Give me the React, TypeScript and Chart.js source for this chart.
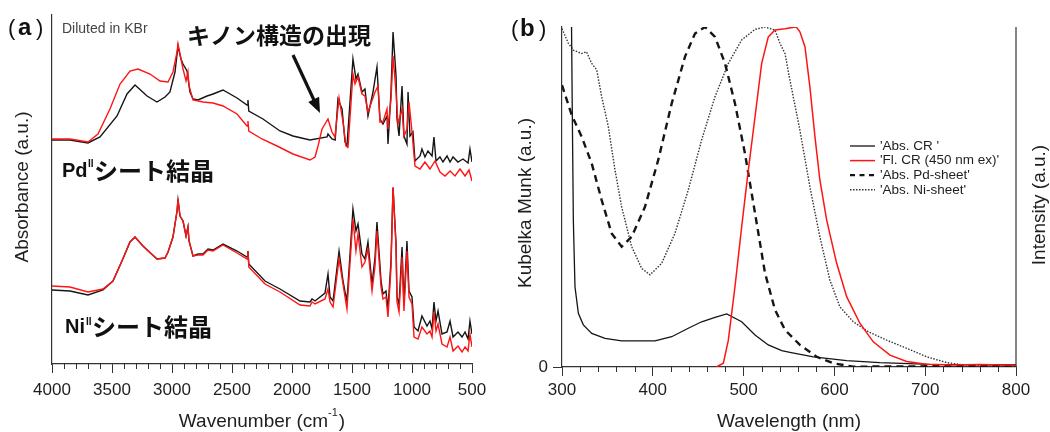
import React, { useEffect, useRef } from 'react';
import { Chart, registerables } from 'chart.js';

Chart.register(...registerables);

const SANS = '"Liberation Sans", Arial, Helvetica, sans-serif';
const CJK = '"Noto Sans CJK JP", "Noto Sans CJK SC", "Noto Sans", sans-serif';
const AXIS = '#333333';
const LABEL = '#1e1e1e';
const BLACK = '#151515';
const RED = '#ff1414';

// ---------------- Panel (a): IR spectra (arbitrary absorbance, offset) ----------------
const irRange = [500, 4000];
const irMajorStep = 500;
const irMinorStep = 100;

const pdBlackWn = [4000,3850,3700,3600,3458,3375,3308,3208,3125,3058,3017,2975,2950,2925,2908,2875,2850,2825,2783,2708,2658,2575,2458,2375,2367,2360,2242,2100,1992,1850,1708,1700,1667,1640,1617,1583,1558,1542,1492,1467,1450,1417,1392,1367,1325,1292,1267,1242,1208,1200,1175,1158,1133,1125,1108,1083,1067,1042,1033,1017,992,975,933,917,892,867,833,817,800,767,742,708,683,658,617,575,533,517,500];
const pdBlackAbs = [224,224,221,227,248,270,279,268,262,267,272,292,318,305,300,293,272,265,264,268,270,274,266,259,264,253,245,233,228,224,227,230,225,224,265,255,222,218,305,285,290,272,275,248,272,297,245,240,248,220,272,332,288,245,228,278,228,220,272,228,232,203,208,215,207,213,208,227,203,207,202,208,202,207,202,205,201,215,202];

const pdRedWn = [4000,3850,3700,3617,3517,3433,3350,3283,3183,3100,3033,2992,2958,2950,2925,2908,2883,2867,2858,2825,2742,2658,2575,2458,2375,2367,2360,2250,2125,1992,1850,1808,1783,1750,1725,1700,1667,1642,1608,1575,1550,1533,1492,1475,1450,1417,1392,1367,1308,1283,1267,1242,1208,1200,1175,1158,1133,1117,1083,1067,1042,1025,1000,975,933,892,850,808,767,725,683,642,600,558,525,500];
const pdRedAbs = [225,225,222,230,255,280,293,295,290,283,282,292,312,320,305,295,283,292,278,264,262,261,258,250,238,243,233,225,218,210,204,207,218,235,240,245,232,227,266,242,218,217,290,280,287,270,268,252,272,278,242,242,255,235,265,308,272,240,255,228,235,262,232,198,195,202,195,203,192,188,193,188,195,188,194,183];

const niWn = [4000,3850,3700,3575,3492,3417,3350,3308,3242,3125,3058,3033,2992,2958,2950,2933,2908,2883,2867,2858,2825,2783,2742,2700,2658,2575,2458,2375,2367,2360,2225,2100,1933,1850,1833,1808,1725,1700,1683,1658,1608,1575,1558,1542,1492,1467,1450,1417,1392,1367,1333,1308,1292,1258,1242,1217,1200,1175,1158,1133,1125,1108,1083,1067,1042,1025,1000,983,950,917,875,850,833,817,800,783,750,708,683,658,617,583,558,533,517,500];
const niBlackAbs = [74,73,69,74,83,103,122,127,118,105,106,112,127,153,164,148,143,128,137,123,108,110,110,115,114,120,113,107,113,100,83,75,63,62,65,63,71,90,67,63,113,83,72,63,155,133,140,110,105,122,80,107,142,83,70,73,55,103,176,120,67,60,117,60,123,73,67,37,33,48,38,43,35,62,43,53,30,32,43,27,32,27,32,25,43,30];
const niRedAbs = [78,77,72,75,83,103,122,127,118,105,106,112,127,153,165,148,143,128,137,123,108,109,109,114,113,119,111,105,113,97,80,72,59,58,62,60,65,75,62,57,105,80,67,55,145,113,130,97,102,115,73,98,133,77,65,67,47,97,177,117,62,52,107,53,113,67,60,27,25,37,30,33,27,52,33,40,20,17,27,13,18,12,17,13,30,17];

// ---------------- Panel (b): UV-vis / fluorescence ----------------
const uvRange = [300, 800];
const uvMajorStep = 100;
const uvMinorStep = 20;

const crAbsNm = [310.5,311.4,312.5,314.3,318,323.5,332.7,347.4,365.7,402.4,420.8,439.1,453.8,468.5,481.4,497.9,512.6,527.2,542,551,576.8,613.5,650,705,797,800];
const crAbsKM = [1.0,0.73,0.43,0.236,0.158,0.124,0.099,0.084,0.077,0.077,0.089,0.114,0.133,0.146,0.156,0.133,0.094,0.065,0.048,0.043,0.030,0.019,0.013,0.008,0.006,0.006];

const crFlNm = [470,477.7,483.2,490.5,497.9,505.2,512.6,519.9,527.2,534.6,545.6,552,558,562,567.6,573,578.6,584,591.5,602.5,613.5,628.2,642.8,661.2,679.6,701.6,730,760,800];
const crFlInt = [0,0.011,0.079,0.236,0.413,0.579,0.736,0.893,0.971,0.991,0.995,0.998,1.0,0.986,0.942,0.824,0.677,0.55,0.432,0.305,0.207,0.128,0.074,0.035,0.016,0.008,0.006,0.007,0.005];

const pdSheetNm = [300,310.7,321.7,332.7,343.7,354.7,365.7,376.7,391.4,406,420.8,435.5,446.5,457.5,468.5,479.5,490.5,501.5,512.6,523.6,534.6,545.6,562,580.5,598.8,620.8,700,800];
const pdSheetKM = [0.829,0.741,0.677,0.599,0.491,0.393,0.354,0.383,0.471,0.609,0.775,0.913,0.981,1.0,0.971,0.893,0.775,0.628,0.452,0.276,0.168,0.109,0.065,0.030,0.011,0.001,0.002,0.002];

const niSheetNm = [300,307,312.5,321.7,327,332.7,338.2,343.7,351,358.4,365.7,376.7,387.8,396.9,409.8,424.4,439.1,453.8,468.5,483.2,497.9,512.6,523.6,534.6,540,545.6,551,562,573,584,595,606,620.8,637.3,657.5,679.6,701.6,723.7,742,800];
const niSheetKM = [0.995,0.952,0.932,0.922,0.927,0.893,0.874,0.795,0.707,0.579,0.471,0.354,0.290,0.271,0.305,0.393,0.521,0.668,0.795,0.893,0.962,0.993,1.0,0.991,0.952,0.922,0.844,0.697,0.53,0.383,0.256,0.177,0.133,0.104,0.079,0.055,0.030,0.013,0.006,0.006];

const legendLabels = ["'Abs. CR '", "'Fl. CR (450 nm ex)'", "'Abs. Pd-sheet'", "'Abs. Ni-sheet'"];

function pts(xs: number[], ys: number[]) {
  return xs.map((x, i) => ({ x, y: ys[i] }));
}

const plainTick = (v: any) => String(v);

function rotText(ctx: CanvasRenderingContext2D, text: string, x: number, y: number, font: string) {
  ctx.save();
  ctx.translate(x, y);
  ctx.rotate(-Math.PI / 2);
  ctx.font = font;
  ctx.textAlign = 'center';
  ctx.textBaseline = 'middle';
  ctx.fillText(text, 0, 0);
  ctx.restore();
}

function minorTicks(ctx: CanvasRenderingContext2D, scale: any, bottom: number, range: number[], step: number, major: number) {
  ctx.save();
  ctx.strokeStyle = AXIS;
  ctx.lineWidth = 1;
  for (let v = range[0]; v <= range[1]; v += step) {
    if (v % major === 0) continue;
    const px = Math.round(scale.getPixelForValue(v)) + 0.5;
    ctx.beginPath();
    ctx.moveTo(px, bottom);
    ctx.lineTo(px, bottom + 5);
    ctx.stroke();
  }
  ctx.restore();
}

function drawArrow(ctx: CanvasRenderingContext2D, x0: number, y0: number, x1: number, y1: number) {
  const dx = x1 - x0, dy = y1 - y0;
  const len = Math.hypot(dx, dy);
  const ux = dx / len, uy = dy / len;
  const headLen = 15, headW = 6;
  const bx = x1 - ux * headLen, by = y1 - uy * headLen;
  ctx.save();
  ctx.strokeStyle = '#111';
  ctx.fillStyle = '#111';
  ctx.lineWidth = 3.2;
  ctx.beginPath();
  ctx.moveTo(x0, y0);
  ctx.lineTo(bx + ux * 2, by + uy * 2);
  ctx.stroke();
  ctx.beginPath();
  ctx.moveTo(x1, y1);
  ctx.lineTo(bx - uy * headW, by + ux * headW);
  ctx.lineTo(bx + uy * headW, by - ux * headW);
  ctx.closePath();
  ctx.fill();
  ctx.restore();
}

function sampleLabel(ctx: CanvasRenderingContext2D, metal: string, x: number, base: number, supX: number, supBase: number, cjkX: number, cjkMid: number) {
  ctx.save();
  ctx.fillStyle = '#111';
  ctx.textAlign = 'left';
  ctx.textBaseline = 'alphabetic';
  ctx.font = `bold 20px ${SANS}`;
  ctx.fillText(metal, x, base);
  ctx.font = `bold 10px ${SANS}`;
  ctx.fillText('II', supX, supBase);
  ctx.font = `bold 24px ${CJK}`;
  ctx.textBaseline = 'middle';
  ctx.fillText('シート結晶', cjkX, cjkMid);
  ctx.restore();
}

function makeConfigA(): any {
  const textPlugin = {
    id: 'panelAText',
    afterDraw(chart: any) {
      const { ctx, chartArea } = chart;
      minorTicks(ctx, chart.scales.x, chartArea.bottom, irRange, irMinorStep, irMajorStep);
      ctx.save();
      ctx.fillStyle = '#111';
      ctx.textAlign = 'left';
      ctx.textBaseline = 'alphabetic';
      ctx.font = `22px ${SANS}`;
      ctx.fillText('(', 8, 35);
      ctx.font = `bold 24px ${SANS}`;
      ctx.fillText('a', 18, 35);
      ctx.font = `22px ${SANS}`;
      ctx.fillText(')', 36, 35);

      ctx.fillStyle = '#444';
      ctx.font = `14px ${SANS}`;
      ctx.fillText('Diluted in KBr', 62, 33);

      ctx.fillStyle = '#111';
      ctx.font = `bold 23px ${CJK}`;
      ctx.textBaseline = 'middle';
      ctx.fillText('キノン構造の出現', 187, 35);
      ctx.restore();

      drawArrow(ctx, 293, 55, 320, 113);
      sampleLabel(ctx, 'Pd', 62, 177, 88, 167, 94, 171);
      sampleLabel(ctx, 'Ni', 65, 333, 86, 325, 92, 327);

      // x title with superscript
      ctx.save();
      ctx.fillStyle = LABEL;
      ctx.textBaseline = 'alphabetic';
      ctx.textAlign = 'left';
      const t1 = 'Wavenumber (cm';
      const sup = '-1';
      const t3 = ')';
      ctx.font = `19px ${SANS}`;
      const w1 = ctx.measureText(t1).width;
      const w3 = ctx.measureText(t3).width;
      ctx.font = `11px ${SANS}`;
      const ws = ctx.measureText(sup).width;
      const total = w1 + ws + 1 + w3;
      let x = (chartArea.left + chartArea.right) / 2 - total / 2;
      ctx.font = `19px ${SANS}`;
      ctx.fillText(t1, x, 427);
      x += w1;
      ctx.font = `11px ${SANS}`;
      ctx.fillText(sup, x, 416);
      x += ws + 1;
      ctx.font = `19px ${SANS}`;
      ctx.fillText(t3, x, 427);
      ctx.restore();

      ctx.save();
      ctx.fillStyle = LABEL;
      rotText(ctx, 'Absorbance (a.u.)', 23, 187, `19px ${SANS}`);
      ctx.restore();
    },
  };

  const line = (data: any, color: string) => ({
    data,
    borderColor: color,
    borderWidth: 1.4,
    pointRadius: 0,
    tension: 0,
    fill: false,
  });

  return {
    type: 'line',
    data: {
      datasets: [
        { label: 'Pd red', ...line(pts(pdRedWn, pdRedAbs), RED) },
        { label: 'Ni red', ...line(pts(niWn, niRedAbs), RED) },
        { label: 'Pd black', ...line(pts(pdBlackWn, pdBlackAbs), BLACK) },
        { label: 'Ni black', ...line(pts(niWn, niBlackAbs), BLACK) },
      ],
    },
    options: {
      animation: false,
      responsive: false,
      devicePixelRatio: 1,
      layout: { padding: { left: 0, right: 33, top: 15, bottom: 0 } },
      plugins: { legend: { display: false }, tooltip: { enabled: false } },
      scales: {
        x: {
          type: 'linear',
          min: irRange[0],
          max: irRange[1],
          reverse: true,
          ticks: { stepSize: irMajorStep, callback: plainTick, color: LABEL, font: { family: SANS, size: 17 }, padding: 7, maxRotation: 0, autoSkip: false },
          grid: { display: true, drawOnChartArea: false, drawTicks: true, tickLength: 9, color: AXIS, lineWidth: 1 },
          border: { display: true, color: AXIS, width: 1.2 },
          afterFit: (s: any) => { s.height = 68; },
        },
        y: {
          type: 'linear',
          min: 0,
          max: 349,
          ticks: { display: false },
          grid: { display: false },
          border: { display: true, color: AXIS, width: 1.2 },
          afterFit: (s: any) => { s.width = 52; },
        },
      },
    },
    plugins: [textPlugin],
  };
}

function makeConfigB(): any {
  const OFF = 505;
  const legendDash: Record<string, number[]> = { "'Abs. Pd-sheet'": [5, 4.5], "'Abs. Ni-sheet'": [1.5, 1.5] };
  const textPlugin = {
    id: 'panelBText',
    afterDraw(chart: any) {
      const { ctx, chartArea } = chart;
      minorTicks(ctx, chart.scales.x, chartArea.bottom, uvRange, uvMinorStep, uvMajorStep);
      ctx.save();
      ctx.strokeStyle = AXIS;
      ctx.lineWidth = 1.2;
      ctx.beginPath();
      ctx.moveTo(chartArea.right, chartArea.top);
      ctx.lineTo(chartArea.right, chartArea.bottom);
      ctx.stroke();

      ctx.fillStyle = '#111';
      ctx.textAlign = 'left';
      ctx.textBaseline = 'alphabetic';
      ctx.font = `22px ${SANS}`;
      ctx.fillText('(', 511 - OFF, 36);
      ctx.font = `bold 24px ${SANS}`;
      ctx.fillText('b', 520 - OFF, 36);
      ctx.font = `22px ${SANS}`;
      ctx.fillText(')', 539 - OFF, 36);

      ctx.fillStyle = LABEL;
      ctx.font = `19px ${SANS}`;
      ctx.textAlign = 'center';
      ctx.fillText('Wavelength (nm)', (chartArea.left + chartArea.right) / 2, 427);
      rotText(ctx, 'Kubelka Munk (a.u.)', 526 - OFF, 203, `19px ${SANS}`);
      rotText(ctx, 'Intensity (a.u.)', 1040 - OFF, 205, `19px ${SANS}`);

      // legend
      const ds = chart.data.datasets;
      legendLabels.forEach((lab, i) => {
        const d = ds.find((q: any) => q.label === lab);
        if (!d) return;
        const y = 146 + i * 14.6;
        ctx.save();
        ctx.strokeStyle = d.borderColor;
        ctx.lineWidth = Math.min(d.borderWidth, 2.2);
        ctx.setLineDash(legendDash[lab] || []);
        ctx.beginPath();
        ctx.moveTo(850 - OFF, y);
        ctx.lineTo(875 - OFF, y);
        ctx.stroke();
        ctx.restore();
        ctx.fillStyle = LABEL;
        ctx.font = `13.5px ${SANS}`;
        ctx.textAlign = 'left';
        ctx.textBaseline = 'middle';
        ctx.fillText(lab, 880 - OFF, y);
      });
      ctx.restore();
    },
  };

  const base = { pointRadius: 0, tension: 0, fill: false };
  return {
    type: 'line',
    data: {
      datasets: [
        { label: legendLabels[1], data: pts(crFlNm, crFlInt), yAxisID: 'y2', borderColor: RED, borderWidth: 1.5, ...base },
        { label: legendLabels[0], data: pts(crAbsNm, crAbsKM), borderColor: BLACK, borderWidth: 1.3, ...base },
        { label: legendLabels[2], data: pts(pdSheetNm, pdSheetKM), borderColor: BLACK, borderWidth: 2.4, borderDash: [7, 5], ...base },
        { label: legendLabels[3], data: pts(niSheetNm, niSheetKM), borderColor: '#333', borderWidth: 1.4, borderDash: [1.5, 1.5], ...base },
      ],
    },
    options: {
      animation: false,
      responsive: false,
      devicePixelRatio: 1,
      layout: { padding: { left: 0, right: 34, top: 27, bottom: 0 } },
      plugins: { legend: { display: false }, tooltip: { enabled: false } },
      scales: {
        x: {
          type: 'linear',
          min: uvRange[0],
          max: uvRange[1],
          ticks: { stepSize: uvMajorStep, callback: plainTick, color: LABEL, font: { family: SANS, size: 17 }, padding: 4, maxRotation: 0, autoSkip: false },
          grid: { display: true, drawOnChartArea: false, drawTicks: true, tickLength: 9, color: AXIS, lineWidth: 1 },
          border: { display: true, color: AXIS, width: 1.2 },
          afterFit: (s: any) => { s.height = 65; },
        },
        y: {
          type: 'linear',
          min: 0,
          max: 1,
          afterBuildTicks: (s: any) => { s.ticks = [{ value: 0 }]; },
          ticks: { callback: plainTick, color: LABEL, font: { family: SANS, size: 17 }, padding: 5 },
          grid: { display: true, drawOnChartArea: false, drawTicks: true, tickLength: 9, color: AXIS, lineWidth: 1 },
          border: { display: true, color: AXIS, width: 1.2 },
          afterFit: (s: any) => { s.width = 57; },
        },
        y2: { type: 'linear', display: false, min: 0, max: 1 },
      },
    },
    plugins: [textPlugin],
  };
}

export default function App() {
  const aRef = useRef<HTMLCanvasElement>(null);
  const bRef = useRef<HTMLCanvasElement>(null);
  useEffect(() => {
    const ca = new Chart(aRef.current as HTMLCanvasElement, makeConfigA());
    const cb = new Chart(bRef.current as HTMLCanvasElement, makeConfigB());
    return () => {
      ca.destroy();
      cb.destroy();
    };
  }, []);
  return (
    <div style={{ position: 'fixed', left: 0, top: 0, width: 1050, height: 432, background: '#fff' }}>
      <canvas ref={aRef} width={505} height={432} style={{ position: 'absolute', left: 0, top: 0, width: 505, height: 432 }} />
      <canvas ref={bRef} width={545} height={432} style={{ position: 'absolute', left: 505, top: 0, width: 545, height: 432 }} />
    </div>
  );
}
